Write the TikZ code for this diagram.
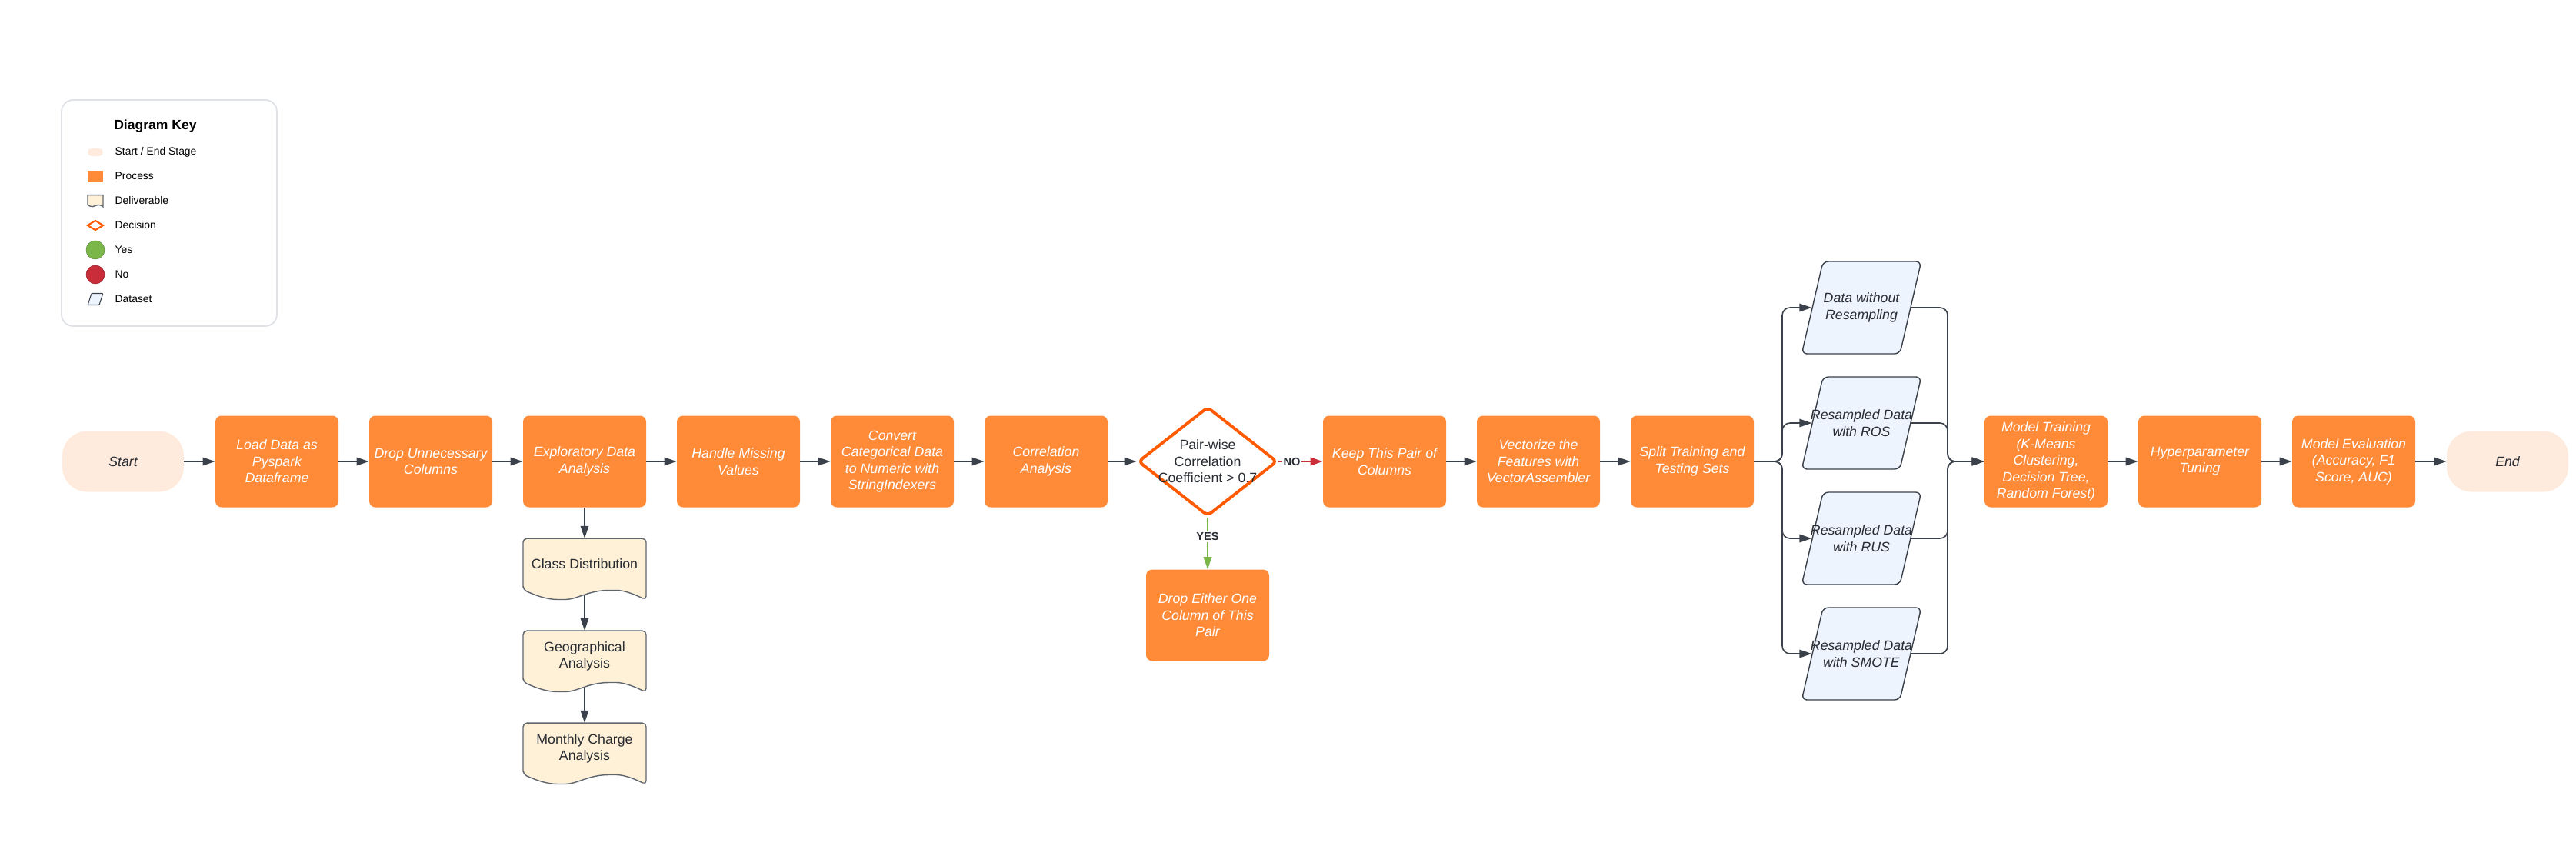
\documentclass[tikz,border=0pt]{standalone}
\usepackage{fontspec}
\setmainfont{Liberation Sans}
\usetikzlibrary{arrows.meta, positioning, shapes.geometric, backgrounds}

\definecolor{procfill}{HTML}{FF8A38}
\definecolor{decline}{HTML}{FF5A00}
\definecolor{termfill}{HTML}{FFEBDE}
\definecolor{docfill}{HTML}{FFF1D7}
\definecolor{datafill}{HTML}{EDF4FE}
\definecolor{arrowcol}{HTML}{3A414A}
\definecolor{edgegray}{HTML}{5F6670}
\definecolor{yesgreen}{HTML}{7AB648}
\definecolor{nored}{HTML}{C92D39}
\definecolor{keyline}{HTML}{DEE1E6}
\definecolor{darktext}{HTML}{282C33}

\tikzset{
    docshape/.style = {draw=edgegray, fill=docfill, line width=0.8pt},
    doc/.pic = {
        \path [docshape] (-1.6,-0.667) -- (-1.6,0.667) -- (1.6,0.667) -- (1.6,-0.933)
            .. controls (1.25,-0.76) and (1.0,-0.68) .. (0.73,-0.68)
            .. controls (0.1,-0.68) and (-0.2,-0.92) .. (-0.6,-0.92)
            .. controls (-1.0,-0.92) and (-1.3,-0.8) .. (-1.6,-0.667) -- cycle;
    }
}

\begin{document}
\begin{tikzpicture} [node distance = 4cm, on grid, auto,
        proc/.style = {rectangle, rounded corners=0.16cm, fill=procfill, text=white,
            minimum width=3.2cm, minimum height=2.38cm, align=center,
            font=\fontsize{10.1}{12.2}\selectfont\itshape},
        term/.style = {rectangle, rounded corners=0.65cm, fill=termfill, text=darktext,
            minimum width=3.16cm, minimum height=1.58cm,
            font=\fontsize{10.1}{12.2}\selectfont\itshape},
        deci/.style = {diamond, draw=decline, line width=2.2pt, fill=white,
            rounded corners=0.12cm, minimum width=3.62cm, minimum height=2.84cm, inner sep=0pt},
        decitext/.style = {align=center, text=darktext, font=\fontsize{10.1}{12.2}\selectfont},
        deliv/.style = {minimum width=3.2cm, minimum height=1.33cm, align=center,
            text=darktext, font=\fontsize{10.1}{12.2}\selectfont},
        dset/.style = {trapezium, trapezium left angle=77, trapezium right angle=103,
            draw=arrowcol, line width=0.8pt, fill=datafill, rounded corners=0.14cm,
            inner xsep=1.0cm, inner ysep=1.2cm, minimum size=0pt},
        dsettext/.style = {align=center, text=darktext, font=\fontsize{10.1}{12.2}\selectfont\itshape},
        flow/.style = {color=arrowcol, line width=0.9pt, -{Triangle[length=0.32cm, width=0.21cm]}},
        yesno/.style = {auto=false, fill=white, inner sep=1pt, text=darktext,
            font=\fontsize{8.3}{10}\selectfont\bfseries},
        keybox/.style = {rectangle, rounded corners=0.3cm, draw=keyline, line width=1pt,
            minimum width=5.6cm, minimum height=5.88cm},
        keytext/.style = {anchor=west, font=\fontsize{7.9}{9.5}\selectfont}
    ]
    \useasboundingbox (-3.2,-10.24) rectangle (63.78,12);

    % key
    \node (key) [keybox] at (1.2,6.46) {};
    \node (keyhead) [font=\fontsize{10}{12}\selectfont\bfseries] at (0.84,8.72) {Diagram Key};
    \node (k1) [keytext] at (-0.33,8.04) {Start / End Stage};
    \node (k2) [keytext] at (-0.33,7.42) {Process};
    \node (k3) [keytext] at (-0.33,6.78) {Deliverable};
    \node (k4) [keytext] at (-0.33,6.14) {Decision};
    \node (k5) [keytext] at (-0.33,5.50) {Yes};
    \node (k6) [keytext] at (-0.33,4.86) {No};
    \node (k7) [keytext] at (-0.33,4.22) {Dataset};
    \node (kstart) [fill=termfill, rounded corners=0.1cm, minimum width=0.4cm, minimum height=0.2cm, inner sep=0pt] at (-0.72,8.04) {};
    \node (kproc) [fill=procfill, minimum width=0.4cm, minimum height=0.3cm, inner sep=0pt] at (-0.72,7.42) {};
    \pic [xscale=0.125, yscale=0.19] at (-0.72,6.80) {doc};
    \node (kdec) [diamond, draw=decline, line width=1.2pt, minimum width=0.42cm, minimum height=0.26cm, inner sep=0pt] at (-0.72,6.14) {};
    \node (kyes) [circle, fill=yesgreen, draw=yesgreen!75!black, line width=0.3pt, minimum size=0.48cm, inner sep=0pt] at (-0.72,5.50) {};
    \node (kno) [circle, fill=nored, draw=nored!75!black, line width=0.3pt, minimum size=0.48cm, inner sep=0pt] at (-0.72,4.86) {};
    \node (kdata) [trapezium, trapezium left angle=72, trapezium right angle=108,
        draw=arrowcol, line width=0.6pt, fill=datafill, rounded corners=0.5pt,
        inner xsep=0.1cm, inner ysep=0.15cm, minimum size=0pt] at (-0.72,4.22) {};

    % main line
    \node (start) [term] {Start};
    \node (load) [proc, right = of start] {Load Data as\\Pyspark\\Dataframe};
    \node (drop) [proc, right = of load] {Drop Unnecessary\\Columns};
    \node (eda) [proc, right = of drop] {Exploratory Data\\Analysis};
    \node (miss) [proc, right = of eda] {Handle Missing\\Values};
    \node (conv) [proc, right = of miss] {Convert\\Categorical Data\\to Numeric with\\StringIndexers};
    \node (corr) [proc, right = of conv] {Correlation\\Analysis};
    \node (dec) [deci, right = 4.2cm of corr] {};
    \node (dect) [decitext] at (dec) {Pair-wise\\Correlation\\Coefficient > 0.7};
    \node (keep) [proc, right = 4.6cm of dec] {Keep This Pair of\\Columns};
    \node (dropone) [proc, below = of dec] {Drop Either One\\Column of This\\Pair};
    \node (vec) [proc, right = of keep] {Vectorize the\\Features with\\VectorAssembler};
    \node (split) [proc, right = of vec] {Split Training and\\Testing Sets};

    \node (d0) [dset, above right = 4cm and 4.4cm of split] {};
    \node (d0t) [dsettext] at (d0) {Data without\\Resampling};
    \node (d1) [dset, above right = 1cm and 4.4cm of split] {};
    \node (d1t) [dsettext] at (d1) {Resampled Data\\with ROS};
    \node (d2) [dset, below right = 2cm and 4.4cm of split] {};
    \node (d2t) [dsettext] at (d2) {Resampled Data\\with RUS};
    \node (d3) [dset, below right = 5cm and 4.4cm of split] {};
    \node (d3t) [dsettext] at (d3) {Resampled Data\\with SMOTE};

    \node (train) [proc, right = 9.2cm of split] {Model Training\\(K-Means\\Clustering,\\Decision Tree,\\Random Forest)};
    \node (tune) [proc, right = of train] {Hyperparameter\\Tuning};
    \node (eval) [proc, right = of tune] {Model Evaluation\\(Accuracy, F1\\Score, AUC)};
    \node (stop) [term, right = of eval] {End};

    % deliverables
    \node (cls) [deliv, below = 2.67cm of eda] {Class Distribution};
    \node (geo) [deliv, below = 2.4cm of cls] {Geographical\\Analysis};
    \node (mon) [deliv, below = 2.4cm of geo] {Monthly Charge\\Analysis};
    \begin{scope}[on background layer]
        \pic [rounded corners=0.1cm] at (cls) {doc};
        \pic [rounded corners=0.1cm] at (geo) {doc};
        \pic [rounded corners=0.1cm] at (mon) {doc};
    \end{scope}

    \coordinate [right = 2.34cm of split] (fork);
    \coordinate [left = 2.56cm of train] (join);

    \path [flow] (start) edge (load);
    \path [flow] (load) edge (drop);
    \path [flow] (drop) edge (eda);
    \path [flow] (eda) edge (miss);
    \path [flow] (miss) edge (conv);
    \path [flow] (conv) edge (corr);
    \path [flow] (corr) edge (dec);
    \path [flow, color=nored, line width=1.2pt] (dec) edge node [yesno, pos=0.3] {NO} (keep);
    \path [flow, color=yesgreen, line width=1.2pt] (dec) edge node [yesno, pos=0.37] {YES} (dropone);
    \path [flow] (keep) edge (vec);
    \path [flow] (vec) edge (split);

    \path [flow] (eda) edge (cls);
    \draw [flow] ([yshift=-0.14cm] cls.south) -- (geo);
    \draw [flow] ([yshift=-0.14cm] geo.south) -- (mon);

    \draw [flow, rounded corners=0.2cm] (split.east) -- (fork) |- (d0.west);
    \draw [flow, rounded corners=0.2cm] (split.east) -- (fork) |- (d1.west);
    \draw [flow, rounded corners=0.2cm] (split.east) -- (fork) |- (d2.west);
    \draw [flow, rounded corners=0.2cm] (split.east) -- (fork) |- (d3.west);
    \draw [flow, rounded corners=0.2cm] (d0.east) -| (join) -- (train.west);
    \draw [flow, rounded corners=0.2cm] (d1.east) -| (join) -- (train.west);
    \draw [flow, rounded corners=0.2cm] (d2.east) -| (join) -- (train.west);
    \draw [flow, rounded corners=0.2cm] (d3.east) -| (join) -- (train.west);

    \path [flow] (train) edge (tune);
    \path [flow] (tune) edge (eval);
    \path [flow] (eval) edge (stop);
\end{tikzpicture}
\end{document}
